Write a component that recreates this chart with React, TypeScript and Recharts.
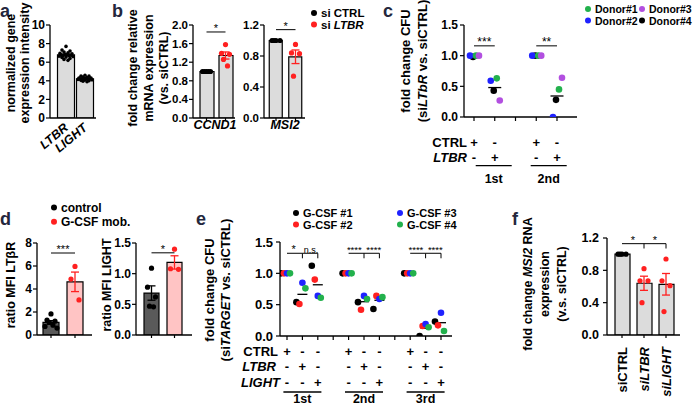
import React from 'react';
import { ComposedChart, Bar, Cell, Scatter, XAxis, YAxis, ErrorBar, ReferenceLine } from 'recharts';

// ---------- data ----------
// a: normalized gene expression intensity
const A_CATS = ['LTBR', 'LIGHT'];
const A_LTBR = [7.7, 7.3, 7.2, 7.1, 7.0, 6.95, 6.9, 6.85, 6.8, 6.8, 6.75, 6.7, 6.7, 6.65, 6.6, 6.55, 6.5, 6.4, 6.3, 6.2];
const A_LIGHT = [4.6, 4.5, 4.5, 4.4, 4.35, 4.3, 4.3, 4.25, 4.25, 4.2, 4.2, 4.2, 4.15, 4.15, 4.1, 4.1, 4.05, 4.0, 3.95, 3.9];

// b: fold change relative mRNA expression
const B_CCND1_CTRL = [1, 1, 1, 1, 1];
const B_CCND1_LTBR = [1.58, 1.39, 1.37, 1.26, 1.12];
const B_MSI2_CTRL = [1, 1, 1, 1];
const B_MSI2_LTBR = [0.95, 0.84, 0.83, 0.54];

// c: fold change CFU per donor, conditions at C_POS
const C_POS = [1, 2, 4, 5];
const C_CTRL = ['+', '-', '+', '-'];
const C_LTBR = ['-', '+', '-', '+'];
const C_ROUNDS = ['1st', '2nd'];
const C_DONOR1 = [1.0, 0.63, 1.0, 0.45];
const C_DONOR2 = [1.0, 0.59, 1.0, 0.0];
const C_DONOR3 = [1.0, 0.27, 1.0, 0.64];
const C_DONOR4 = [0.98, 0.43, 1.0, 0.28];

// d: ratio MFI
const D_LTBR_CTRL = [1.83, 1.3, 1.2, 1.1, 0.85, 0.75, 0.6];
const D_LTBR_GCSF = [5.96, 4.86, 3.05];
const D_LIGHT_CTRL = [1.09, 0.78, 0.62, 0.47, 0.46];
const D_LIGHT_GCSF = [1.4, 1.08, 1.07];

// e: fold change CFU per G-CSF sample, conditions at E_POS
const E_POS = [1, 2, 3, 5, 6, 7, 9, 10, 11];
const E_CTRL = ['+', '-', '-', '+', '-', '-', '+', '-', '-'];
const E_LTBR = ['-', '+', '-', '-', '+', '-', '-', '+', '-'];
const E_LIGHT = ['-', '-', '+', '-', '-', '+', '-', '-', '+'];
const E_ROUNDS = ['1st', '2nd', '3rd'];
const E_GCSF1 = [1.0, 0.54, 1.12, 1.0, 0.54, 0.43, 1.0, 0.0, 0.23];
const E_GCSF2 = [1.0, 0.51, 0.9, 1.0, 0.42, 0.64, 1.0, 0.16, 0.17];
const E_GCSF3 = [1.0, 0.85, 0.64, 1.0, 0.64, 0.59, 1.0, 0.19, 0.37];
const E_GCSF4 = [1.0, 0.76, 0.61, 1.0, 0.59, 0.62, 1.0, 0.14, 0.08];

// f: fold change MSI2 RNA expression
const F_CATS = ['siCTRL', 'siLTBR', 'siLIGHT'];
const F_CTRL = [1, 1, 1, 1];
const F_LTBR = [0.82, 0.67, 0.67, 0.4];
const F_LIGHT = [0.94, 0.67, 0.61, 0.29];

// ---------- style ----------
const FONT = '"Liberation Sans", Arial, Helvetica, sans-serif';
const LETTER = '#24273d';
const GREY = '#dcdcdc';
const RED = '#ff2020';
const GREEN = '#22b14c';
const BLUE = '#1f22ff';
const PURPLE = '#b24fe0';
const BLACK = '#000000';
const DARK = '#5a5a5a';
const PINK = '#ffc4c4';
const AXIS = { stroke: '#000', strokeWidth: 1.3 };
const JIT = [0, -4, 4, -2, 2, -6, 6, -1, 1, -5, 5, -3, 3, -7, 7];

const mean = (v: number[]) => v.reduce((s, x) => s + x, 0) / v.length;
const sem = (v: number[]) => {
  const m = mean(v);
  const sd = Math.sqrt(v.reduce((s, x) => s + (x - m) ** 2, 0) / (v.length - 1));
  return sd / Math.sqrt(v.length);
};
const pts = (vals: number[], x: number) => vals.map((y, i) => ({ x, y, i }));

type Box = { x0: number; x1: number; y0: number; y1: number; yw: number; xh: number; top: number; right: number };
// place a chart so its plot area lands on the given pixel rect
function frame(b: Box) {
  return {
    style: { position: 'absolute' as const, left: b.x0 - b.yw, top: b.y0 - b.top },
    width: b.yw + b.x1 - b.x0 + b.right,
    height: b.top + b.y1 - b.y0 + b.xh,
    margin: { top: b.top, right: b.right, bottom: 0, left: 0 },
  };
}
// x domain from pixel rect, centre of first category and unit width
const dom = (b: Box, c1: number, unit: number): [number, number] => [1 - (c1 - b.x0) / unit, 1 + (b.x1 - c1) / unit];

function dot(color: string, r: number, dx: (i: number) => number) {
  return (p: any) => {
    if (p.cx == null || p.cy == null) return <g />;
    return <circle cx={p.cx + dx(p.payload?.i ?? 0)} cy={p.cy} r={r} fill={color} />;
  };
}

type Sig = { from: number; to: number; y: number; text: string; fs?: number; dx?: number; drops?: number[]; drop?: number };
function sigLines(sigs: Sig[]) {
  const out: React.ReactElement[] = [];
  sigs.forEach((s, k) => {
    out.push(
      <ReferenceLine
        key={`s${k}`}
        segment={[{ x: s.from, y: s.y }, { x: s.to, y: s.y }]}
        stroke="#000"
        strokeWidth={1}
        ifOverflow="visible"
        label={{ value: s.text, position: 'top', offset: 0, fontSize: s.fs ?? 11, fill: '#000', dx: s.dx ?? 0 }}
      />
    );
    (s.drops ?? []).forEach((d, j) =>
      out.push(
        <ReferenceLine
          key={`s${k}d${j}`}
          segment={[{ x: d, y: s.y }, { x: d, y: s.y - (s.drop ?? 0.06) }]}
          stroke="#000"
          strokeWidth={1}
          ifOverflow="visible"
        />
      )
    );
  });
  return out;
}

const markTick = (p: any) => <line x1={p.x} x2={p.x} y1={p.y} y2={p.y + 3} stroke="#000" strokeWidth={1.2} />;

type YCfg = { dom: [number, number]; ticks: number[]; dec: number; fs: number; tm: number };
const yAxis = (b: Box, y: YCfg) => (
  <YAxis
    type="number"
    domain={y.dom}
    allowDataOverflow
    ticks={y.ticks}
    interval={0}
    tickFormatter={(v: number) => v.toFixed(y.dec)}
    tick={{ fontSize: y.fs, fontWeight: 700, fill: '#000', fontFamily: FONT }}
    tickSize={4}
    tickMargin={y.tm}
    tickLine={{ stroke: '#000', strokeWidth: 1.2 }}
    axisLine={AXIS}
    width={b.yw}
  />
);

function BarPanel(props: {
  box: Box; c1: number; unit: number; y: YCfg;
  groups: number[][]; fills: string[]; dots: string[]; errs: string[];
  barSize: number; r: number; tick: (p: any) => React.ReactElement; sigs: Sig[];
}) {
  const f = frame(props.box);
  const rows = props.groups.map((g, k) => ({ x: k + 1, mean: mean(g), sem: sem(g) }));
  return (
    <div style={f.style}>
      <ComposedChart width={f.width} height={f.height} margin={f.margin} data={rows}>
        <XAxis
          dataKey="x"
          type="number"
          domain={dom(props.box, props.c1, props.unit)}
          allowDataOverflow
          ticks={rows.map((r) => r.x)}
          interval={0}
          tickSize={0}
          tickMargin={0}
          tick={props.tick}
          tickLine={false}
          axisLine={AXIS}
          height={props.box.xh}
        />
        {yAxis(props.box, props.y)}
        <Bar dataKey="mean" barSize={props.barSize} isAnimationActive={false} stroke="#000" strokeWidth={1.2}>
          {rows.map((_, k) => (
            <Cell key={k} fill={props.fills[k]} />
          ))}
        </Bar>
        {rows.map((r, k) => (
          <Scatter key={`e${k}`} data={[r]} dataKey="mean" isAnimationActive={false} shape={() => <g />}>
            <ErrorBar dataKey="sem" direction="y" width={4} stroke={props.errs[k]} strokeWidth={1.3} />
          </Scatter>
        ))}
        {props.groups.map((g, k) => (
          <Scatter
            key={`d${k}`}
            data={pts(g, k + 1)}
            dataKey="y"
            isAnimationActive={false}
            shape={dot(props.dots[k], props.r, (i) => JIT[i % JIT.length])}
          />
        ))}
        {sigLines(props.sigs)}
      </ComposedChart>
    </div>
  );
}

type Series = { vals: number[]; color: string; dx: number };
type SignCfg = { pos: number[]; rows: string[][]; rowY: number[]; groups: number[]; names: string[]; lineY: number; lineW: number; nameY: number };
function signTick(cfg: SignCfg) {
  return (p: any) => {
    const v = p.payload.value;
    const k = cfg.pos.indexOf(v);
    const g = cfg.groups.indexOf(v);
    return (
      <g fontFamily={FONT} fontWeight={700} fontSize={13} fill="#000">
        {Number.isInteger(v) && <line x1={p.x} x2={p.x} y1={p.y} y2={p.y + 4} stroke="#000" strokeWidth={1.2} />}
        {k >= 0 &&
          cfg.rows.map((r, j) => (
            <text key={j} x={p.x} y={p.y + cfg.rowY[j]} textAnchor="middle">
              {r[k]}
            </text>
          ))}
        {g >= 0 && (
          <>
            <line x1={p.x - cfg.lineW / 2} x2={p.x + cfg.lineW / 2} y1={p.y + cfg.lineY} y2={p.y + cfg.lineY} stroke="#000" strokeWidth={1.3} />
            <text x={p.x} y={p.y + cfg.nameY} textAnchor="middle" fontSize={12.5}>
              {cfg.names[g]}
            </text>
          </>
        )}
      </g>
    );
  };
}

function DonorPanel(props: {
  box: Box; c1: number; unit: number; y: YCfg; pos: number[]; series: Series[];
  r: number; meanW: number; ticks: number[]; sign: SignCfg; sigs: Sig[];
}) {
  const f = frame(props.box);
  const means = props.pos.map((x, k) => ({ x, y: mean(props.series.map((s) => s.vals[k])) }));
  const meanShape = (p: any) =>
    p.cx == null ? <g /> : <line x1={p.cx - props.meanW / 2} x2={p.cx + props.meanW / 2} y1={p.cy} y2={p.cy} stroke="#000" strokeWidth={1.3} />;
  return (
    <div style={f.style}>
      <ComposedChart width={f.width} height={f.height} margin={f.margin}>
        <XAxis
          dataKey="x"
          type="number"
          domain={dom(props.box, props.c1, props.unit)}
          allowDataOverflow
          ticks={props.ticks}
          interval={0}
          tickSize={0}
          tickMargin={0}
          tick={signTick(props.sign)}
          tickLine={false}
          axisLine={AXIS}
          height={props.box.xh}
        />
        {yAxis(props.box, props.y)}
        <Scatter data={means} dataKey="y" isAnimationActive={false} shape={meanShape} />
        {props.series.map((s, k) => (
          <Scatter
            key={k}
            data={props.pos.map((x, i) => ({ x, y: s.vals[i], i }))}
            dataKey="y"
            isAnimationActive={false}
            shape={dot(s.color, props.r, () => s.dx)}
          />
        ))}
        {sigLines(props.sigs)}
      </ComposedChart>
    </div>
  );
}

// ---------- text overlay ----------
const vt = (x: number, cy: number, content: React.ReactNode, size = 12.5) => (
  <text transform={`translate(${x},${cy}) rotate(-90)`} textAnchor="middle" fontSize={size} fontWeight={700}>
    {content}
  </text>
);
const it = (s: string) => <tspan fontStyle="italic">{s}</tspan>;
const legend = (x: number, y: number, color: string, label: React.ReactNode, size = 12) => (
  <g>
    <circle cx={x} cy={y} r={3} fill={color} />
    <text x={x + 7} y={y + 4} fontSize={size} fontWeight={700}>
      {label}
    </text>
  </g>
);

function Overlay() {
  const letter = (x: number, y: number, s: string) => (
    <text x={x} y={y} fontSize={18} fontWeight={700} fill={LETTER}>
      {s}
    </text>
  );
  return (
    <svg width={700} height={405} style={{ position: 'absolute', left: 0, top: 0, pointerEvents: 'none' }} fontFamily={FONT} fill="#000">
      {letter(0, 17, 'a')}
      {letter(112, 17, 'b')}
      {letter(383, 17, 'c')}
      {letter(0, 225, 'd')}
      {letter(196, 225, 'e')}
      {letter(512, 225, 'f')}

      {vt(15, 63, 'normalized gene')}
      {vt(29, 63, 'expression intensity')}

      {vt(137, 68, 'fold change relative')}
      {vt(153, 68, 'mRNA expression')}
      {vt(168, 68, '(vs. siCTRL)')}
      <text x={215} y={129} textAnchor="middle" fontSize={12.5} fontWeight={700} fontStyle="italic">CCND1</text>
      <text x={285} y={129} textAnchor="middle" fontSize={12.5} fontWeight={700} fontStyle="italic">MSI2</text>
      {legend(314, 13, BLACK, 'si CTRL', 11.5)}
      {legend(314, 24.5, RED, <>si {it('LTBR')}</>, 11.5)}

      {vt(410, 61, 'fold change CFU', 13)}
      {vt(427, 61, <>(si{it('LTbR')} vs. siCTRL)</>, 13)}
      {legend(588, 9, GREEN, 'Donor#1', 10.5)}
      {legend(642, 9, PURPLE, 'Donor#3', 10.5)}
      {legend(588, 20.5, BLUE, 'Donor#2', 10.5)}
      {legend(642, 20.5, BLACK, 'Donor#4', 10.5)}
      <text x={467} y={146.5} textAnchor="end" fontSize={13} fontWeight={700}>CTRL</text>
      <text x={467} y={162} textAnchor="end" fontSize={13} fontWeight={700} fontStyle="italic">LTBR</text>

      {legend(54, 207.5, BLACK, 'control')}
      {legend(54, 221.7, RED, 'G-CSF mob.')}
      {vt(15, 285, 'ratio MFI LT\u03b2R')}
      {vt(111, 285, 'ratio MFI LIGHT')}

      {vt(214, 290, 'fold change CFU', 13)}
      {vt(230, 290, <>(si{it('TARGET')} vs. siCTRL)</>, 13)}
      {legend(296, 213, BLACK, 'G-CSF #1', 11)}
      {legend(296, 224.5, RED, 'G-CSF #2', 11)}
      {legend(400, 213, BLUE, 'G-CSF #3', 11)}
      {legend(400, 224.5, GREEN, 'G-CSF #4', 11)}
      <text x={278} y={356} textAnchor="end" fontSize={13} fontWeight={700}>CTRL</text>
      <text x={276} y={371} textAnchor="end" fontSize={13} fontWeight={700} fontStyle="italic">LTBR</text>
      <text x={280} y={387} textAnchor="end" fontSize={13} fontWeight={700} fontStyle="italic">LIGHT</text>

      {vt(532, 284, <>fold change {it('MSI2')} RNA</>)}
      {vt(549, 284, 'expression')}
      {vt(566, 284, '(v.s. siCTRL)')}
    </svg>
  );
}

// ---------- panels ----------
const A_BOX: Box = { x0: 50, x1: 96, y0: 25, y1: 118, yw: 30, xh: 42, top: 6, right: 4 };
const B1_BOX: Box = { x0: 193, x1: 235, y0: 25, y1: 118, yw: 30, xh: 8, top: 6, right: 3 };
const B2_BOX: Box = { x0: 264, x1: 305, y0: 25, y1: 118, yw: 30, xh: 8, top: 6, right: 3 };
const C_BOX: Box = { x0: 464, x1: 577, y0: 25, y1: 117, yw: 30, xh: 72, top: 6, right: 4 };
const D1_BOX: Box = { x0: 37, x1: 92, y0: 243, y1: 335, yw: 26, xh: 8, top: 6, right: 3 };
const D2_BOX: Box = { x0: 136, x1: 192, y0: 243, y1: 335, yw: 30, xh: 8, top: 6, right: 3 };
const E_BOX: Box = { x0: 280, x1: 452, y0: 242, y1: 336, yw: 36, xh: 69, top: 6, right: 4 };
const F_BOX: Box = { x0: 607, x1: 680, y0: 238, y1: 335, yw: 36, xh: 68, top: 6, right: 4 };

const aTick = (p: any) => (
  <text
    transform={`translate(${p.x + 3},${p.y + 11}) rotate(-40)`}
    textAnchor="end"
    fontSize={12.5}
    fontWeight={700}
    fontStyle="italic"
    fontFamily={FONT}
    fill="#000"
  >
    {A_CATS[p.payload.value - 1]}
  </text>
);

const fTick = (p: any) => {
  const k = p.payload.value - 1;
  return (
    <g>
      {markTick(p)}
      <text
        transform={`translate(${p.x + 5},${p.y + 12}) rotate(-90)`}
        textAnchor="end"
        fontSize={13}
        fontWeight={700}
        fontStyle={k > 0 ? 'italic' : 'normal'}
        fontFamily={FONT}
        fill="#000"
      >
        {F_CATS[k]}
      </text>
    </g>
  );
};

export default function App() {
  return (
    <div style={{ position: 'absolute', left: 0, top: 0, width: 700, height: 405, background: '#fff', fontFamily: FONT, overflow: 'hidden' }}>
      <BarPanel
        box={A_BOX} c1={66} unit={19}
        y={{ dom: [0, 10], ticks: [0, 2, 4, 6, 8, 10], dec: 0, fs: 12, tm: 1 }}
        groups={[A_LTBR, A_LIGHT]} fills={[GREY, GREY]} dots={[BLACK, BLACK]} errs={[BLACK, BLACK]}
        barSize={17} r={1.8} tick={aTick} sigs={[]}
      />
      <BarPanel
        box={B1_BOX} c1={206.5} unit={19}
        y={{ dom: [0, 2], ticks: [0, 0.4, 0.8, 1.2, 1.6, 2.0], dec: 1, fs: 11.5, tm: 1 }}
        groups={[B_CCND1_CTRL, B_CCND1_LTBR]} fills={[GREY, GREY]} dots={[BLACK, RED]} errs={[BLACK, RED]}
        barSize={14} r={2.6} tick={markTick}
        sigs={[{ from: 1, to: 2, y: 1.85, text: '*' }]}
      />
      <BarPanel
        box={B2_BOX} c1={276} unit={19.5}
        y={{ dom: [0, 1.2], ticks: [0, 0.4, 0.8, 1.2], dec: 1, fs: 11.5, tm: 1 }}
        groups={[B_MSI2_CTRL, B_MSI2_LTBR]} fills={[GREY, GREY]} dots={[BLACK, RED]} errs={[BLACK, RED]}
        barSize={13} r={2.6} tick={markTick}
        sigs={[{ from: 1, to: 2, y: 1.14, text: '*' }]}
      />
      <DonorPanel
        box={C_BOX} c1={474} unit={20.75}
        y={{ dom: [0, 1.5], ticks: [0, 0.5, 1.0, 1.5], dec: 1, fs: 12, tm: 2 }}
        pos={C_POS}
        series={[
          { vals: C_DONOR4, color: BLACK, dx: -1 },
          { vals: C_DONOR2, color: BLUE, dx: -4 },
          { vals: C_DONOR1, color: GREEN, dx: 2 },
          { vals: C_DONOR3, color: PURPLE, dx: 5 },
        ]}
        r={3.3} meanW={13} ticks={[1, 1.95, 2, 3, 4, 4.6, 5]}
        sign={{ pos: C_POS, rows: [C_CTRL, C_LTBR], rowY: [29.5, 45], groups: [1.95, 4.6], names: C_ROUNDS, lineY: 48.7, lineW: 36, nameY: 66 }}
        sigs={[
          { from: 1, to: 2, y: 1.16, text: '***', fs: 12 },
          { from: 4, to: 5, y: 1.16, text: '**', fs: 12 },
        ]}
      />
      <BarPanel
        box={D1_BOX} c1={51} unit={24}
        y={{ dom: [0, 8], ticks: [0, 2, 4, 6, 8], dec: 0, fs: 12, tm: 1 }}
        groups={[D_LTBR_CTRL, D_LTBR_GCSF]} fills={[DARK, PINK]} dots={[BLACK, RED]} errs={[BLACK, RED]}
        barSize={16} r={2.6} tick={markTick}
        sigs={[{ from: 1, to: 2, y: 7.13, text: '***' }]}
      />
      <BarPanel
        box={D2_BOX} c1={151.5} unit={23}
        y={{ dom: [0, 1.5], ticks: [0, 0.5, 1.0, 1.5], dec: 1, fs: 12, tm: 1 }}
        groups={[D_LIGHT_CTRL, D_LIGHT_GCSF]} fills={[DARK, PINK]} dots={[BLACK, RED]} errs={[BLACK, RED]}
        barSize={15} r={2.6} tick={markTick}
        sigs={[{ from: 1, to: 2, y: 1.34, text: '*' }]}
      />
      <DonorPanel
        box={E_BOX} c1={287} unit={15.4}
        y={{ dom: [0, 1.5], ticks: [0, 0.5, 1.0, 1.5], dec: 1, fs: 13, tm: 3 }}
        pos={E_POS}
        series={[
          { vals: E_GCSF1, color: BLACK, dx: -6 },
          { vals: E_GCSF2, color: RED, dx: -3 },
          { vals: E_GCSF3, color: BLUE, dx: 0 },
          { vals: E_GCSF4, color: GREEN, dx: 3 },
        ]}
        r={3.3} meanW={10} ticks={[1, 2, 3, 4, 5, 6, 7, 8, 9, 10, 11]}
        sign={{ pos: E_POS, rows: [E_CTRL, E_LTBR, E_LIGHT], rowY: [20, 35, 51], groups: [2, 6, 10], names: E_ROUNDS, lineY: 56, lineW: 38, nameY: 66.5 }}
        sigs={[
          { from: 1, to: 2, y: 1.32, text: '*', dx: -1 },
          { from: 2, to: 3, y: 1.32, text: 'n.s.', fs: 9, dx: 1, drops: [2, 3], drop: 0.08 },
          { from: 5, to: 6, y: 1.32, text: '****', fs: 9.5, dx: -2 },
          { from: 6, to: 7, y: 1.32, text: '****', fs: 9.5, dx: 2, drops: [6, 7], drop: 0.08 },
          { from: 9, to: 10, y: 1.32, text: '****', fs: 9.5, dx: -2 },
          { from: 10, to: 11, y: 1.32, text: '****', fs: 9.5, dx: 2, drops: [10, 11], drop: 0.08 },
        ]}
      />
      <BarPanel
        box={F_BOX} c1={622} unit={22}
        y={{ dom: [0, 1.2], ticks: [0, 0.4, 0.8, 1.2], dec: 1, fs: 12.5, tm: 4 }}
        groups={[F_CTRL, F_LTBR, F_LIGHT]} fills={[GREY, GREY, GREY]} dots={[BLACK, RED, RED]} errs={[BLACK, RED, RED]}
        barSize={15} r={2.6} tick={fTick}
        sigs={[
          { from: 1, to: 2, y: 1.13, text: '*' },
          { from: 2, to: 3, y: 1.13, text: '*', drops: [2, 3], drop: 0.06 },
        ]}
      />
      <Overlay />
    </div>
  );
}
